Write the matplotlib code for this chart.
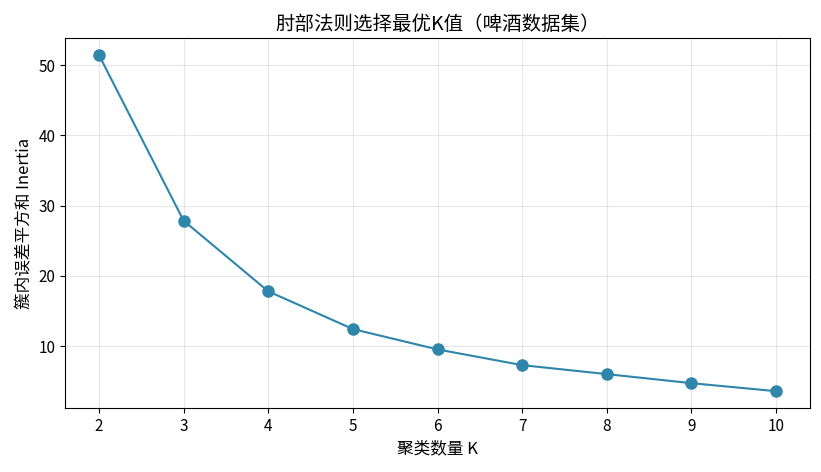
import matplotlib
matplotlib.use("Agg")
import matplotlib.pyplot as plt

plt.rcParams['font.family'] = ['Noto Sans CJK SC', 'DejaVu Sans']
plt.rcParams['axes.unicode_minus'] = False

k_values = [2, 3, 4, 5, 6, 7, 8, 9, 10]
inertia = [51.49, 27.88, 17.81, 12.43, 9.53, 7.29, 6.01, 4.72, 3.58]

fig = plt.figure(figsize=(8.21, 4.72), dpi=100)
ax = fig.add_axes([65/821, (472-408)/472, (810-65)/821, (408-38)/472])
ax.plot(k_values, inertia, marker='o', color='#2E86AB', linewidth=1.5, markersize=8)
ax.set_xticks(k_values)
ax.tick_params(labelsize=11)
ax.set_xlabel('聚类数量 K', fontsize=12)
ax.set_ylabel('簇内误差平方和 Inertia', fontsize=12)
ax.set_title('肘部法则选择最优K值（啤酒数据集）', fontsize=14)
ax.grid(True, alpha=0.3)
fig.savefig('out.png', dpi=100)
